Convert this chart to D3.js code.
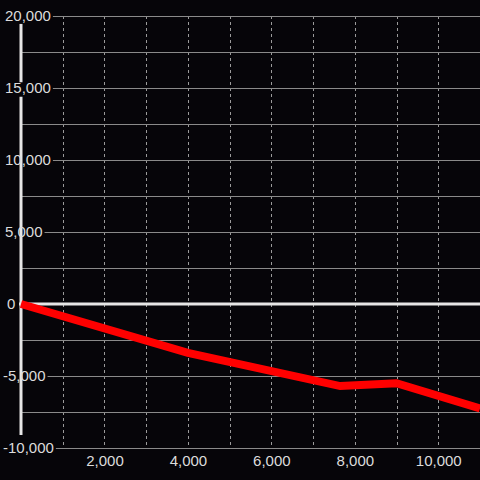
<!DOCTYPE html>
<html>
<head>
<meta charset="utf-8">
<script src="https://d3js.org/d3.v7.min.js"></script>
<style>
  html, body { margin: 0; padding: 0; background: #060509; }
</style>
</head>
<body>
<div id="chart"></div>
<script>
// chart data
const xValues = [0, 4000, 7650, 9000, 11000];
const yValues = [0, -3400, -5700, -5500, -7250];
const xTickLabels = [2000, 4000, 6000, 8000, 10000];
const yTickLabels = [20000, 15000, 10000, 5000, 0, -5000, -10000];
const yGridValues = [17500, 12500, 7500, 2500, -2500, -7500];
const xGridValues = [1000, 2000, 3000, 4000, 5000, 6000, 7000, 8000, 9000, 10000, 11000];

const W = 480, H = 480;
const FONT = "'Liberation Sans', Arial, sans-serif";
const FS = "15px";

const svg = d3.select("#chart")
    .append("svg")
    .attr("width", W)
    .attr("height", H);

svg.append("rect").attr("width", W).attr("height", H).attr("fill", "#060509");

const x = d3.scaleLinear().domain([0, 11000]).range([21, 480]);
const y = d3.scaleLinear().domain([-10000, 20000]).range([448, 16]);
const fmt = d3.format(",");

// dashed vertical grid
svg.selectAll(".vgrid")
    .data(xGridValues)
    .enter()
    .append("line")
    .attr("x1", d => Math.round(x(d)) + 0.5)
    .attr("x2", d => Math.round(x(d)) + 0.5)
    .attr("y1", y(20000))
    .attr("y2", y(-9850))
    .attr("stroke", "#9a9a9a")
    .attr("stroke-width", 1)
    .attr("stroke-dasharray", "3,3");

// minor horizontal grid (no labels)
svg.selectAll(".hgrid-minor")
    .data(yGridValues)
    .enter()
    .append("line")
    .attr("x1", x(0) + 1)
    .attr("x2", W)
    .attr("y1", d => Math.round(y(d)) + 0.5)
    .attr("y2", d => Math.round(y(d)) + 0.5)
    .attr("stroke", "#8a8a8a")
    .attr("stroke-width", 1);

// y axis line (small gap behind the 15,000 label)
svg.append("line")
    .attr("x1", x(0)).attr("x2", x(0))
    .attr("y1", y(19450)).attr("y2", y(15400))
    .attr("stroke", "#e6e6e6").attr("stroke-width", 3);
svg.append("line")
    .attr("x1", x(0)).attr("x2", x(0))
    .attr("y1", y(14400)).attr("y2", y(-9100))
    .attr("stroke", "#e6e6e6").attr("stroke-width", 3);

// y labels + major gridlines
const yLab = svg.selectAll(".ylab")
    .data(yTickLabels)
    .enter()
    .append("g");

const labX = d => d < 0 ? 3 : (d === 0 ? 7 : 5);

yLab.append("text")
    .attr("x", labX)
    .attr("y", d => y(d))
    .attr("dy", "0.35em")
    .attr("text-anchor", "start")
    .attr("font-family", FONT)
    .attr("font-size", FS)
    .attr("fill", "#dcdcdc")
    .text(d => fmt(d).replace("−", "-"));

yLab.each(function(d) {
    if (d === 0) return;
    const w = d3.select(this).select("text").node().getComputedTextLength();
    d3.select(this).append("line")
        .attr("x1", labX(d) + w + 2)
        .attr("x2", W)
        .attr("y1", Math.round(y(d)) + 0.5)
        .attr("y2", Math.round(y(d)) + 0.5)
        .attr("stroke", "#8a8a8a")
        .attr("stroke-width", 1);
});

// zero line
svg.append("line")
    .attr("x1", x(0) - 2)
    .attr("x2", W)
    .attr("y1", y(0))
    .attr("y2", y(0))
    .attr("stroke", "#e6e6e6")
    .attr("stroke-width", 3);

// x labels
svg.append("g")
    .attr("transform", `translate(0,${y(-10000)})`)
    .call(d3.axisBottom(x).tickValues(xTickLabels).tickSize(0).tickPadding(7).tickFormat(fmt))
    .call(g => g.select(".domain").remove())
    .call(g => g.attr("font-size", FS).attr("font-family", FONT))
    .selectAll("text")
    .attr("fill", "#dcdcdc");

// data line
const pts = xValues.map((v, i) => [v, yValues[i]]);
const line = d3.line()
    .x(d => x(d[0]))
    .y(d => y(d[1]));

svg.append("path")
    .datum(pts)
    .attr("fill", "none")
    .attr("stroke", "#ff0000")
    .attr("stroke-width", 8)
    .attr("stroke-linejoin", "miter")
    .attr("d", line);
</script>
</body>
</html>
